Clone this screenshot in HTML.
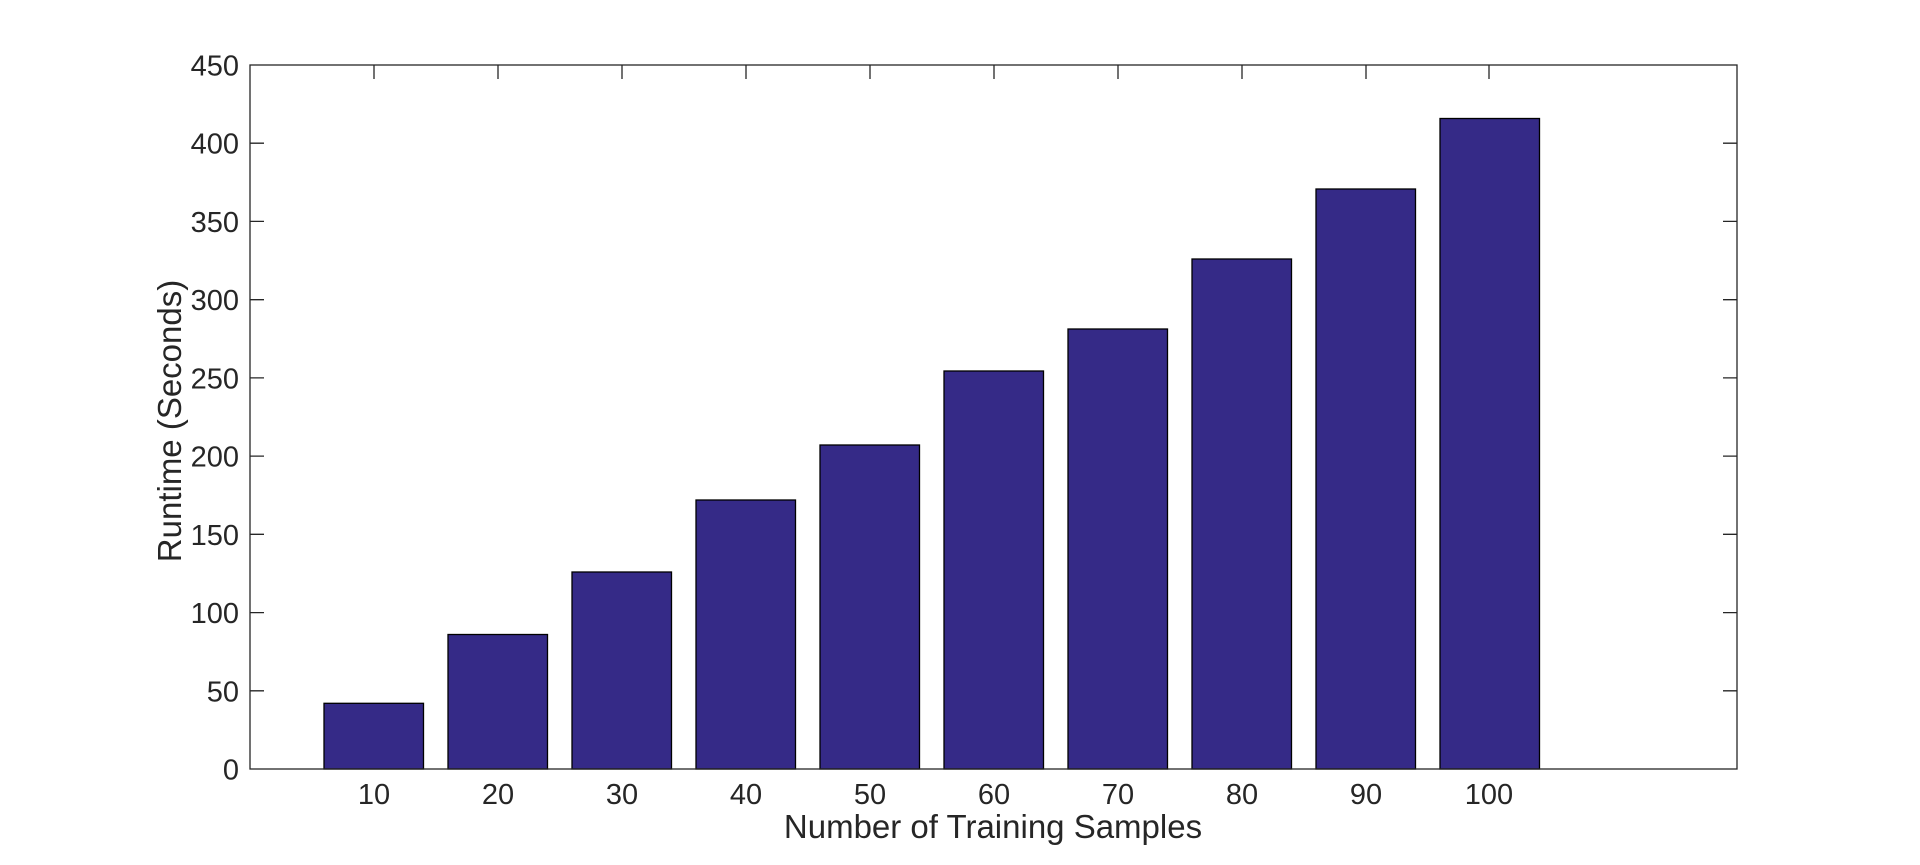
<!DOCTYPE html>
<html><head><style>
html,body{margin:0;padding:0;background:#fff;}
svg{display:block;}
text{font-family:"Liberation Sans",Arial,sans-serif;fill:#262626;}
</style></head><body>
<svg width="1920" height="865" viewBox="0 0 1920 865" xmlns="http://www.w3.org/2000/svg">
<rect width="1920" height="865" fill="#fff"/>
<g stroke="#262626" stroke-width="1.3" fill="none">
<path d="M250 690.8h14M250 612.6h14M250 534.3h14M250 456.1h14M250 377.9h14M250 299.7h14M250 221.4h14M250 143.2h14
M1737 690.8h-14M1737 612.6h-14M1737 534.3h-14M1737 456.1h-14M1737 377.9h-14M1737 299.7h-14M1737 221.4h-14M1737 143.2h-14
M374 769v-14M498 769v-14M622 769v-14M746 769v-14M870 769v-14M994 769v-14M1118 769v-14M1242 769v-14M1366 769v-14M1489 769v-14
M374 65v14M498 65v14M622 65v14M746 65v14M870 65v14M994 65v14M1118 65v14M1242 65v14M1366 65v14M1489 65v14"/>
</g>
<g fill="#352a87" stroke="#000" stroke-width="1.3">
<rect x="324" y="703.3" width="99.5" height="65.7"/>
<rect x="448" y="634.5" width="99.5" height="134.5"/>
<rect x="572" y="572" width="99.5" height="197"/>
<rect x="696" y="500" width="99.5" height="269"/>
<rect x="820" y="445" width="99.5" height="324"/>
<rect x="944" y="371" width="99.5" height="398"/>
<rect x="1068" y="329" width="99.5" height="440"/>
<rect x="1192" y="259" width="99.5" height="510"/>
<rect x="1316" y="189" width="99.5" height="580"/>
<rect x="1440" y="118.5" width="99.5" height="650.5"/>
</g>
<rect x="250" y="65" width="1487" height="704" stroke="#262626" stroke-width="1.3" fill="none"/>
<g font-size="29" text-anchor="end">
<text x="239" y="779.5">0</text>
<text x="239" y="701.3">50</text>
<text x="239" y="623.1">100</text>
<text x="239" y="544.8">150</text>
<text x="239" y="466.6">200</text>
<text x="239" y="388.4">250</text>
<text x="239" y="310.2">300</text>
<text x="239" y="231.9">350</text>
<text x="239" y="153.7">400</text>
<text x="239" y="75.5">450</text>
</g>
<g font-size="29" text-anchor="middle">
<text x="374" y="804">10</text>
<text x="498" y="804">20</text>
<text x="622" y="804">30</text>
<text x="746" y="804">40</text>
<text x="870" y="804">50</text>
<text x="994" y="804">60</text>
<text x="1118" y="804">70</text>
<text x="1242" y="804">80</text>
<text x="1366" y="804">90</text>
<text x="1489" y="804">100</text>
</g>
<text x="993" y="838" font-size="33" text-anchor="middle">Number of Training Samples</text>
<text transform="translate(181,421) rotate(-90)" font-size="33" text-anchor="middle">Runtime (Seconds)</text>
</svg>
</body></html>
